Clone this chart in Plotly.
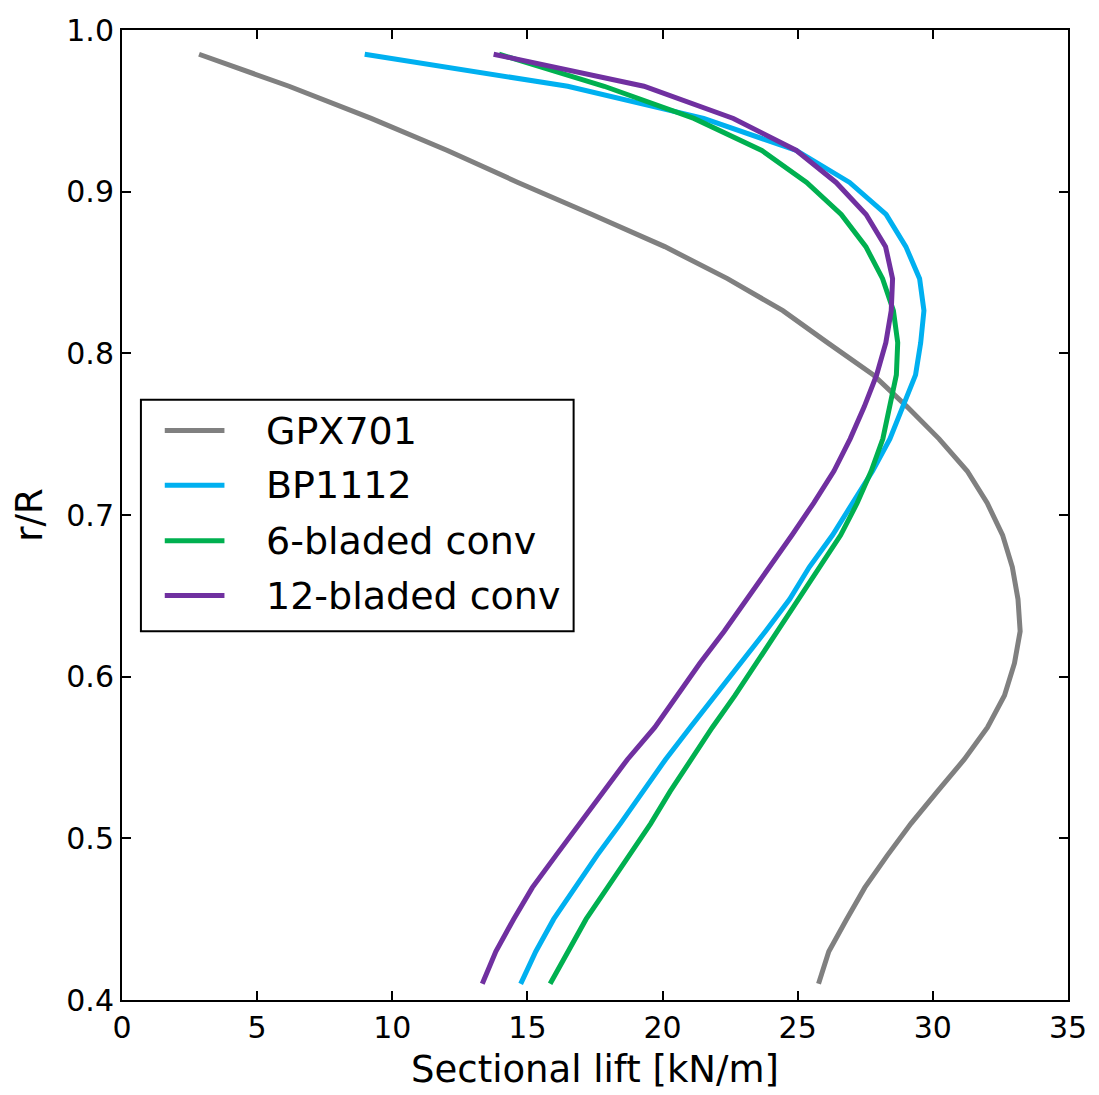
import plotly.graph_objects as go

# r/R stations (shared by all series)
r_R = [0.410, 0.430, 0.450, 0.4695, 0.4893, 0.5091, 0.5290, 0.5488, 0.5686, 0.5884,
       0.6083, 0.6281, 0.6479, 0.6678, 0.6876, 0.7074, 0.7272, 0.7471, 0.7669, 0.7867,
       0.8066, 0.8264, 0.8462, 0.8660, 0.8859, 0.9057, 0.9255, 0.9453, 0.9652, 0.9850]

# Sectional lift [kN/m]
gpx701 = [25.77, 26.15, 26.81, 27.48, 28.31, 29.19, 30.17, 31.16, 32.02, 32.65,
          33.02, 33.23, 33.15, 32.94, 32.58, 32.01, 31.27, 30.23, 29.05, 27.80,
          26.10, 24.45, 22.40, 20.08, 17.39, 14.65, 12.04, 9.22, 6.18, 2.85]
bp1112 = [14.75, 15.31, 15.97, 16.77, 17.57, 18.44, 19.26, 20.11, 21.02, 21.96,
          22.90, 23.81, 24.70, 25.43, 26.29, 27.04, 27.77, 28.41, 28.90, 29.36,
          29.55, 29.67, 29.51, 29.00, 28.27, 26.92, 24.95, 21.52, 16.49, 8.98]
conv6 = [15.84, 16.48, 17.17, 17.96, 18.77, 19.56, 20.28, 21.06, 21.84, 22.68,
         23.49, 24.25, 25.03, 25.79, 26.59, 27.20, 27.72, 28.15, 28.41, 28.65,
         28.70, 28.54, 28.14, 27.52, 26.61, 25.33, 23.67, 21.16, 17.84, 13.95]
conv12 = [13.33, 13.83, 14.49, 15.18, 16.05, 16.94, 17.79, 18.70, 19.71, 20.52,
          21.38, 22.28, 23.13, 23.97, 24.79, 25.59, 26.34, 26.94, 27.46, 27.92,
          28.26, 28.46, 28.51, 28.25, 27.53, 26.42, 24.95, 22.62, 19.31, 13.75]

names = ["GPX701", "BP1112", "6-bladed conv", "12-bladed conv"]
colors = ["#808080", "#00B0F0", "#00B050", "#7030A0"]
series = [gpx701, bp1112, conv6, conv12]

x_ticks = [0, 5, 10, 15, 20, 25, 30, 35]
y_ticks = [0.4, 0.5, 0.6, 0.7, 0.8, 0.9, 1.0]

FONT = "DejaVu Sans"

fig = go.Figure()
for name, col, vals in zip(names, colors, series):
    fig.add_trace(go.Scatter(x=vals, y=r_R, mode="lines", name=name,
                             line=dict(color=col, width=5), showlegend=False))

# Manual legend (matplotlib-like box)
shapes = [dict(type="rect", xref="paper", yref="paper", x0=0.020, x1=0.4774,
               y0=0.3801, y1=0.6189, line=dict(color="black", width=2),
               fillcolor="white", layer="above")]
annotations = []
leg_y = [0.5871, 0.5307, 0.4734, 0.4170]
for name, col, yy in zip(names, colors, leg_y):
    shapes.append(dict(type="line", xref="paper", yref="paper", x0=0.0452, x1=0.1083,
                       y0=yy, y1=yy, line=dict(color=col, width=5), layer="above"))
    annotations.append(dict(xref="paper", yref="paper", x=0.1504, y=yy, text=name,
                            showarrow=False, xanchor="left", yanchor="middle",
                            font=dict(family=FONT, size=38, color="black")))

fig.update_layout(
    width=1099, height=1095,
    margin=dict(l=122, r=26, t=24, b=95),
    paper_bgcolor="white", plot_bgcolor="white",
    font=dict(family=FONT, color="black"),
    shapes=shapes, annotations=annotations,
    xaxis=dict(range=[0, 35], tickvals=x_ticks, ticktext=[str(v) for v in x_ticks],
               ticks="inside", ticklen=9, tickwidth=1.5, tickcolor="black",
               showline=True, linecolor="black", linewidth=2, mirror="ticks",
               showgrid=False, zeroline=False,
               tickfont=dict(family=FONT, size=30, color="black"),
               title=dict(text="Sectional lift [kN/m]", standoff=12,
                          font=dict(family=FONT, size=37, color="black"))),
    yaxis=dict(range=[0.4, 1.0], tickvals=y_ticks, ticktext=[f"{v:.1f}" for v in y_ticks],
               ticks="inside", ticklen=9, tickwidth=1.5, tickcolor="black",
               showline=True, linecolor="black", linewidth=2, mirror="ticks",
               showgrid=False, zeroline=False,
               tickfont=dict(family=FONT, size=30, color="black"),
               title=dict(text="r/R", standoff=12,
                          font=dict(family=FONT, size=37, color="black"))),
)

fig.write_html("out.html")
